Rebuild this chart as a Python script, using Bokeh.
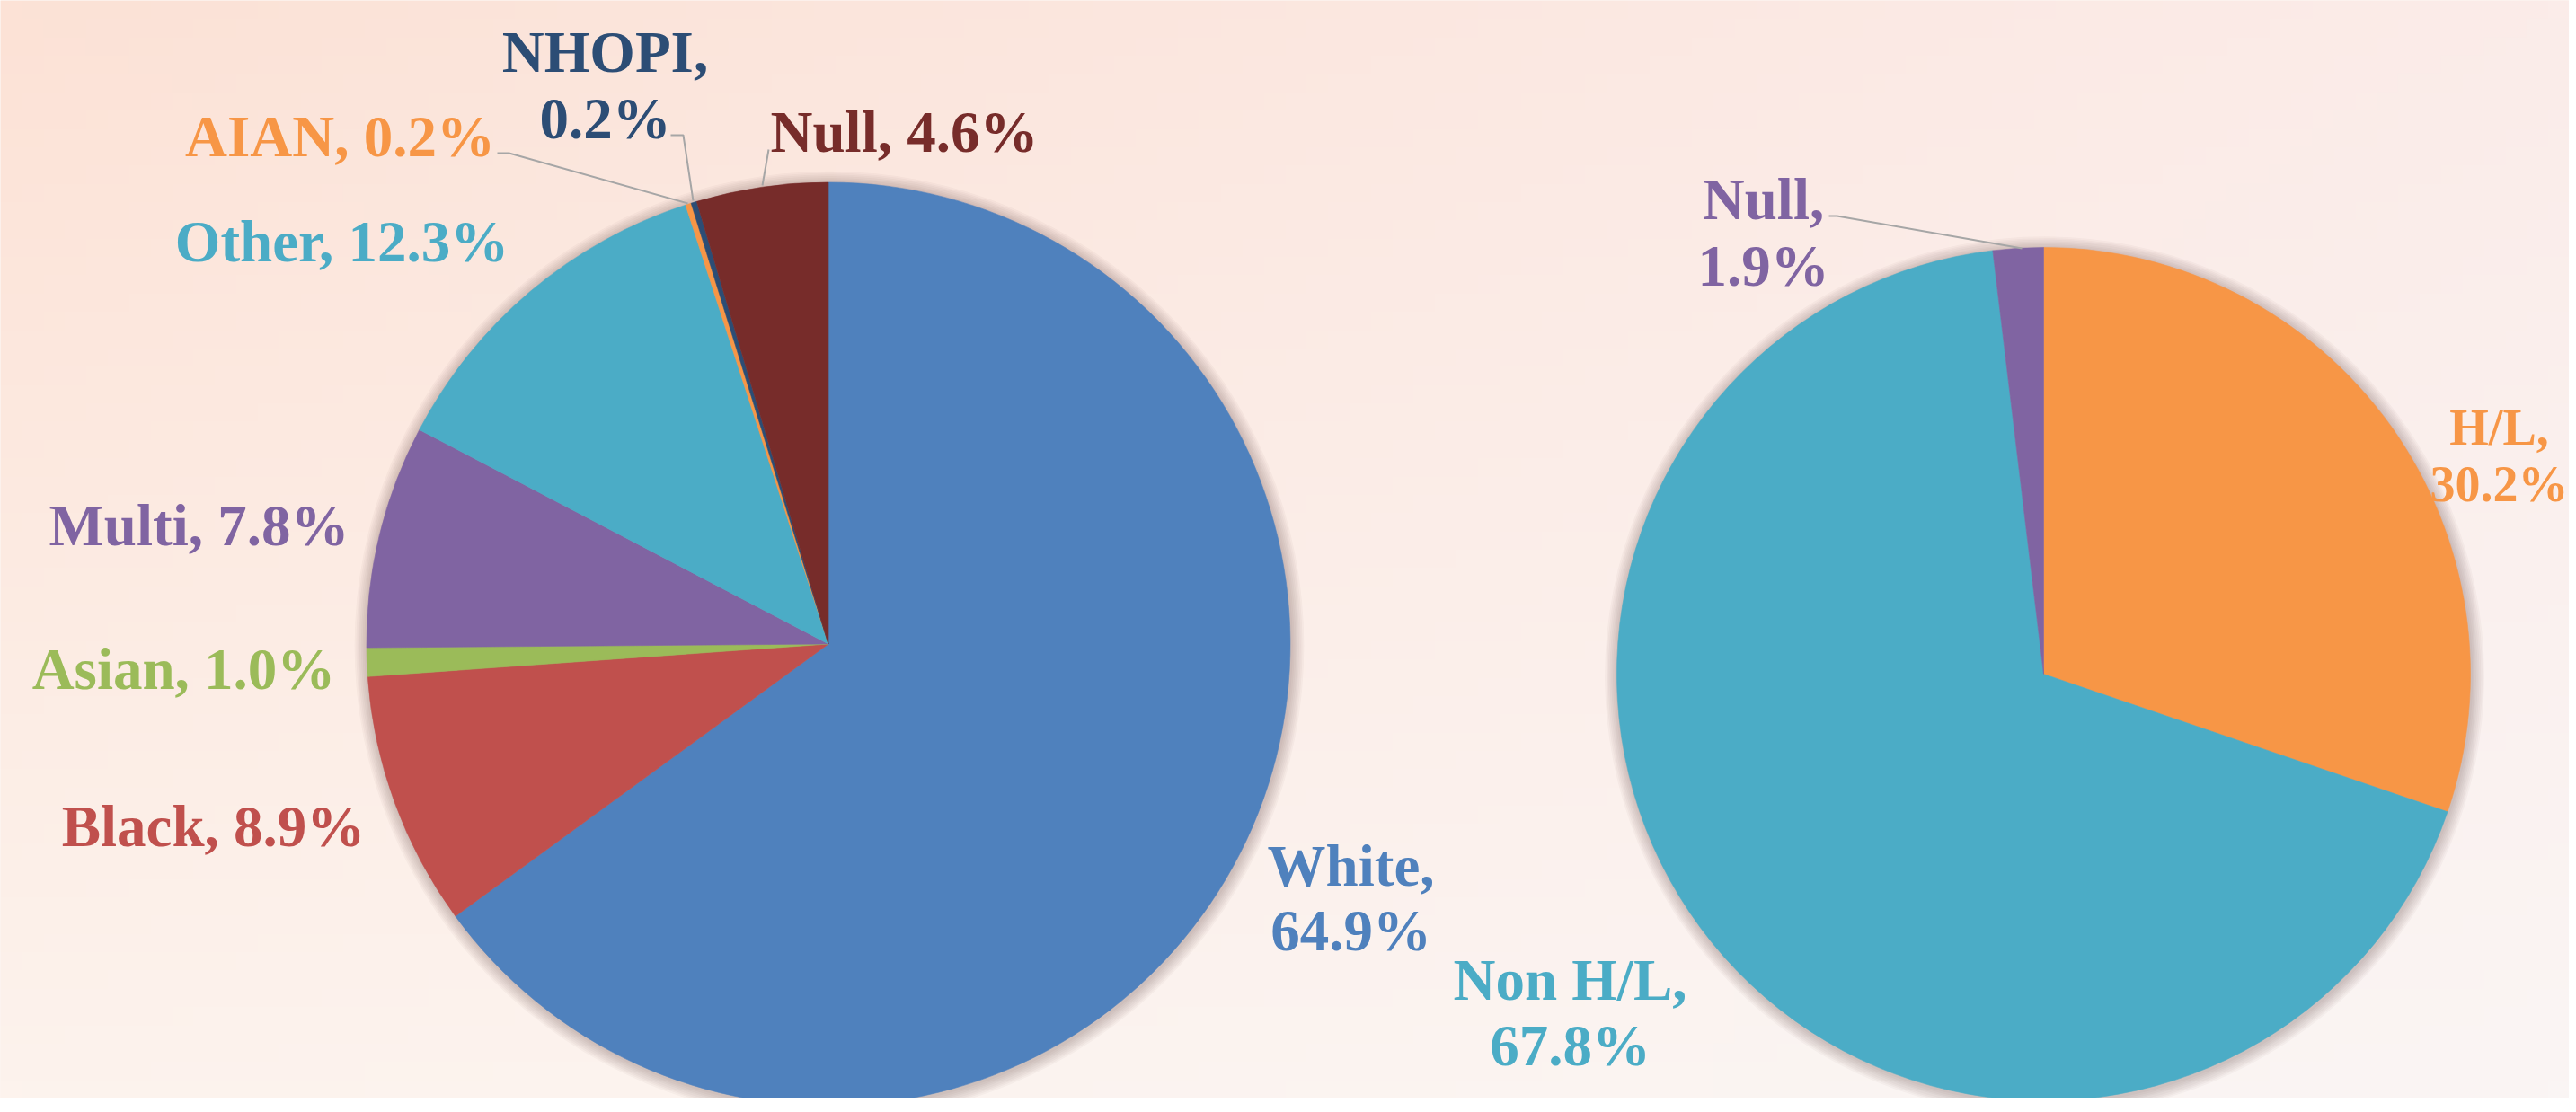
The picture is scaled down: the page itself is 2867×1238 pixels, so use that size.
import numpy as np
from bokeh.plotting import figure
from bokeh.models import Range1d
from bokeh.core.properties import value
from bokeh.embed import file_html
from bokeh.resources import INLINE

# ---------------- data ----------------
race_categories = ["White", "Black", "Asian", "Multi", "Other", "AIAN", "NHOPI", "Null"]
race_values = [64.9, 8.9, 1.0, 7.8, 12.3, 0.2, 0.2, 4.6]
race_colors = ["#4F81BD", "#C0504D", "#9BBB59", "#8064A2", "#4BACC6", "#F79646", "#2C4D75", "#772C2A"]

eth_categories = ["H/L", "Non H/L", "Null"]
eth_values = [30.2, 67.8, 1.9]
eth_colors = ["#F79646", "#4BACC6", "#8064A2"]

# ---------------- layout ----------------
W, H = 2859, 1222
OFF = 0
TEXT_DY = -22


def X(rx):
    return rx - OFF


def Y(ry):
    return H - (ry - OFF)


p = figure(width=W, height=H, output_backend="svg", toolbar_location=None,
           x_range=Range1d(0, W), y_range=Range1d(0, H), min_border=0)
p.axis.visible = False
p.grid.visible = False
p.outline_line_color = None
p.background_fill_color = "#FCEBE4"
p.border_fill_color = "#FCEBE4"

# background gradient
ny, nx = 60, 120
tl = np.array([252, 226, 214], float)
tr = np.array([251, 236, 233], float)
bl = np.array([253, 243, 237], float)
br = np.array([250, 245, 244], float)
u = np.linspace(0, 1, nx)[None, :, None]
v = np.linspace(0, 1, ny)[:, None, None]  # v=0 bottom, v=1 top
top = tl * (1 - u) + tr * u
bot = bl * (1 - u) + br * u
col = bot * (1 - v) + top * v
img = np.zeros((ny, nx), dtype=np.uint32)
view = img.view(dtype=np.uint8).reshape((ny, nx, 4))
view[:, :, 0] = col[:, :, 0].astype(np.uint8)
view[:, :, 1] = col[:, :, 1].astype(np.uint8)
view[:, :, 2] = col[:, :, 2].astype(np.uint8)
view[:, :, 3] = 255
p.image_rgba(image=[img], x=0, y=0, dw=W, dh=H)


def draw_pie(cx, cy, r, vals, colors):
    # soft shadow
    for i in range(1, 9):
        p.circle(x=[X(cx) + 1], y=[Y(cy) - 2], radius=r + i * 1.8,
                 fill_color="#3a2a25", fill_alpha=0.032, line_color=None)
    total = float(sum(vals))
    fr = np.array(vals, float) / total
    cum = np.concatenate([[0.0], np.cumsum(fr)])
    starts = np.pi / 2 - 2 * np.pi * cum[:-1]
    ends = np.pi / 2 - 2 * np.pi * cum[1:]
    p.wedge(x=[X(cx)] * len(vals), y=[Y(cy)] * len(vals), radius=r,
            start_angle=list(starts), end_angle=list(ends), direction="clock",
            fill_color=colors, line_color=colors, line_width=0.6)


draw_pie(921.5, 716.5, 514, race_values, race_colors)
draw_pie(2274, 750, 475, eth_values, eth_colors)

FONT = value("Liberation Serif")
FS = "65px"


def label(lines, cx, baselines, color, fs=FS):
    for t, b in zip(lines, baselines):
        p.text(x=[X(cx)], y=[Y(b + TEXT_DY)], text=[t], text_font=FONT, text_font_size=fs,
               text_font_style="bold", text_color=color, text_align="center",
               text_baseline="alphabetic")


def lbl(cat, val):
    return f"{cat}, {val:.1f}%"


# left pie labels
rc = dict(zip(race_categories, race_colors))
rv = dict(zip(race_categories, race_values))
label(["White,", f"{rv['White']:.1f}%"], 1503, [985, 1057], rc["White"])
label([lbl("Black", rv["Black"])], 237, [941], rc["Black"])
label([lbl("Asian", rv["Asian"])], 204, [766], rc["Asian"])
label([lbl("Multi", rv["Multi"])], 221, [606], rc["Multi"])
label([lbl("Other", rv["Other"])], 380, [290], rc["Other"])
label([lbl("AIAN", rv["AIAN"])], 378, [173], rc["AIAN"])
label(["NHOPI,", f"{rv['NHOPI']:.1f}%"], 673, [79, 153], rc["NHOPI"])
label([lbl("Null", rv["Null"])], 1006, [168], rc["Null"])

# right pie labels
ec = dict(zip(eth_categories, eth_colors))
ev = dict(zip(eth_categories, eth_values))
label(["H/L,", f"{ev['H/L']:.1f}%"], 2781, [497, 560], ec["H/L"], fs="56px")
label(["Non H/L,", f"{ev['Non H/L']:.1f}%"], 1747, [1112, 1185], ec["Non H/L"])
label(["Null,", f"{ev['Null']:.1f}%"], 1962, [243, 317], ec["Null"])

# leader lines
LC = "#A6A6A6"
for xs, ys in [
    ([553, 566, 765], [170, 170, 226]),
    ([746, 760, 771], [150, 150, 223]),
    ([855, 848], [166, 206]),
    ([2035, 2044, 2250], [240, 240, 276]),
]:
    p.line(x=[X(a) for a in xs], y=[Y(b) for b in ys], line_color=LC, line_width=2)

open("out.html", "w").write(file_html(p, INLINE))
